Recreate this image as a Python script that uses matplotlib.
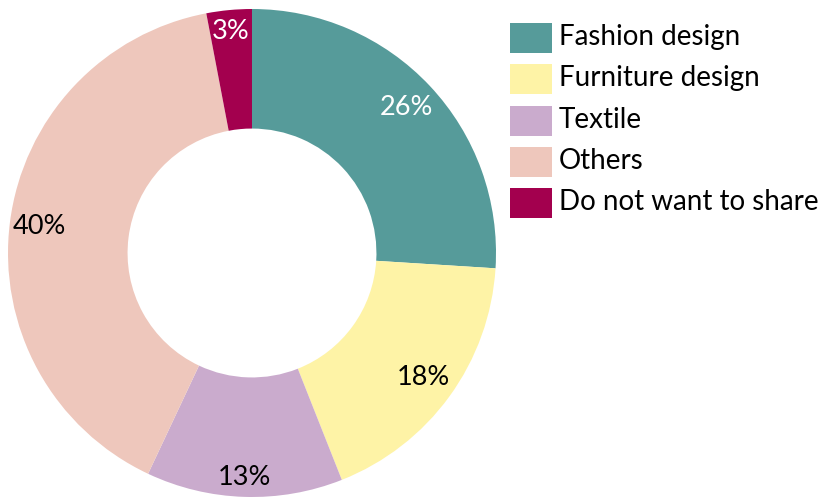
import matplotlib
matplotlib.use("Agg")
import matplotlib.pyplot as plt
from matplotlib.patches import Rectangle
import numpy as np

categories = ["Fashion design", "Furniture design", "Textile", "Others", "Do not want to share"]
shares = [26, 18, 13, 40, 3]
colors = ["#569B9A", "#FEF3A6", "#CAABCD", "#EEC7BC", "#A3004E"]
label_colors = ["white", "black", "black", "black", "white"]
label_radius = [0.87, 0.87, 0.92, 0.88, 0.91]

plt.rcParams["font.family"] = ["Lato", "DejaVu Sans"]

W, H = 822, 497
fig = plt.figure(figsize=(W / 100, H / 100), dpi=100)

cx, cy, R = 252, 244, 244
ax = fig.add_axes([(cx - R) / W, (cy - R) / H, 2 * R / W, 2 * R / H])
wedges, _ = ax.pie(shares, colors=colors, startangle=90, counterclock=False,
                   radius=1.0, wedgeprops=dict(width=0.49, linewidth=0))
ax.set_xlim(-1, 1)
ax.set_ylim(-1, 1)
ax.set_aspect("auto")
ax.axis("off")

total = sum(shares)
start = 90.0
for v, col, r in zip(shares, label_colors, label_radius):
    mid = np.deg2rad(start - 360.0 * v / total / 2)
    ax.text(r * np.cos(mid), r * np.sin(mid), f"{v}%", ha="center", va="center",
            fontsize=19.5, color=col)
    start -= 360.0 * v / total

# Legend drawn in pixel positions
x0, sw, sh = 510, 42, 30
row_y = 38
step = 41.3
for i, (name, c) in enumerate(zip(categories, colors)):
    yc = row_y + i * step
    fig.patches.append(Rectangle((x0 / W, 1 - (yc + sh / 2) / H), sw / W, sh / H,
                                 transform=fig.transFigure, facecolor=c,
                                 edgecolor="none"))
    fig.text(559 / W, 1 - (yc - 1) / H, name, ha="left", va="center",
             fontsize=20, color="black")

fig.savefig("out.png", dpi=100)
